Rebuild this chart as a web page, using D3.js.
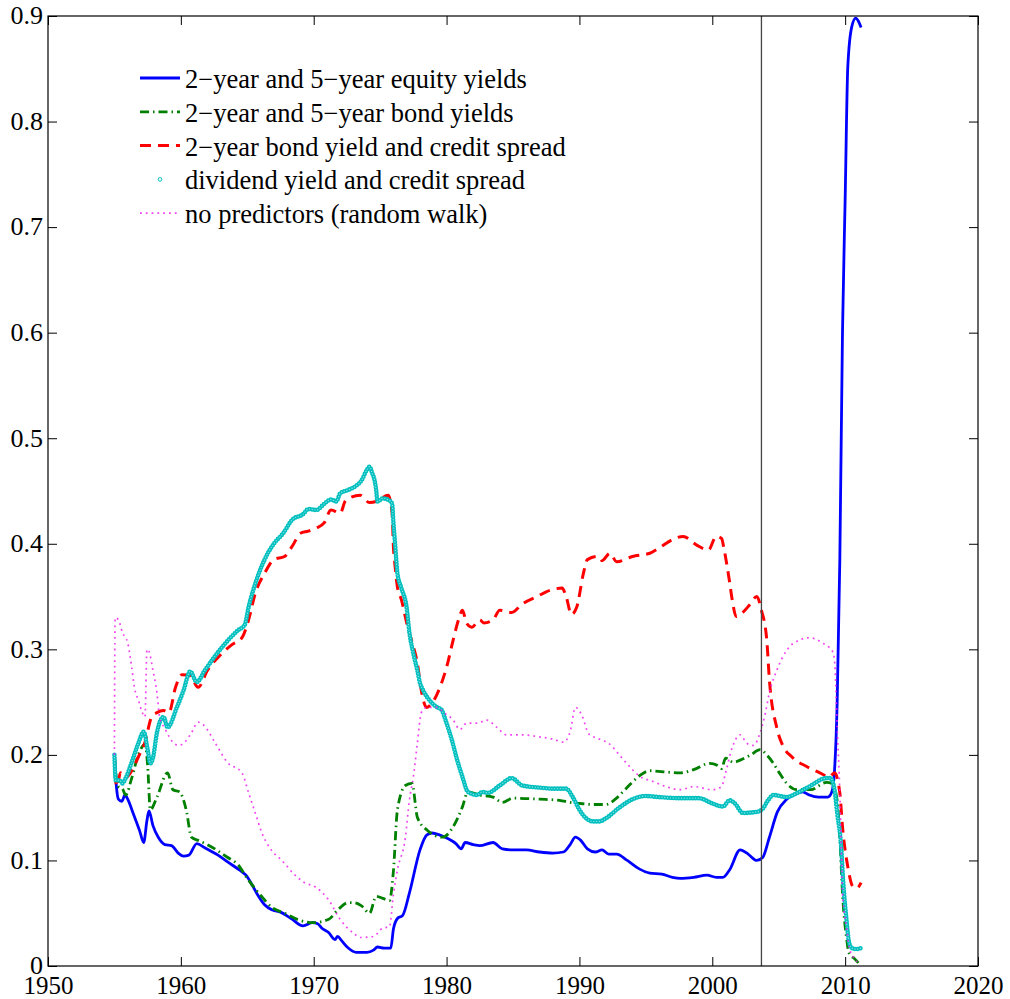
<!DOCTYPE html>
<html>
<head>
<meta charset="utf-8">
<script src="https://cdn.jsdelivr.net/npm/d3@7"></script>
<style>
  html, body { margin: 0; padding: 0; background: #fff; }
  svg { display: block; }
  text { font-family: "Liberation Serif", "Times New Roman", serif; fill: #000; }
</style>
</head>
<body>
<svg id="chart" width="1010" height="999"></svg>
<script>
// Forecast-error paths for five predictor sets, 1955–2011: [year, value]
const equityYields = [
  [1955.0,0.200],[1955.15,0.170],[1955.3,0.158],[1955.55,0.156],[1955.8,0.162],[1956.0,0.158],
  [1956.4,0.145],[1956.9,0.128],[1957.2,0.117],[1957.45,0.138],[1957.6,0.147],[1957.9,0.133],
  [1958.3,0.122],[1958.8,0.115],[1959.3,0.114],[1959.8,0.107],[1960.2,0.104],[1960.6,0.105],
  [1961.2,0.116],[1961.8,0.112],[1962.8,0.105],[1963.6,0.098],[1964.4,0.091],[1964.9,0.086],
  [1965.4,0.076],[1965.8,0.067],[1966.3,0.058],[1966.9,0.053],[1967.5,0.051],[1968.3,0.045],
  [1969.2,0.038],[1969.9,0.041],[1970.3,0.040],[1970.6,0.036],[1971.1,0.032],[1971.6,0.025],
  [1971.8,0.028],[1972.1,0.024],[1972.6,0.017],[1973.2,0.013],[1974.0,0.013],[1974.5,0.015],
  [1974.8,0.018],[1975.3,0.017],[1975.8,0.017],[1976.0,0.035],[1976.3,0.045],[1976.7,0.048],
  [1977.2,0.069],[1978.0,0.110],[1978.5,0.124],[1978.9,0.126],[1979.5,0.124],[1980.2,0.120],
  [1980.7,0.116],[1981.1,0.111],[1981.4,0.117],[1982.0,0.115],[1982.5,0.114],[1983.5,0.117],
  [1984.2,0.111],[1985.0,0.110],[1986.0,0.110],[1987.0,0.108],[1988.0,0.107],[1988.8,0.108],
  [1989.3,0.115],[1989.7,0.122],[1990.1,0.119],[1990.6,0.111],[1991.2,0.108],[1991.7,0.110],
  [1992.2,0.106],[1992.8,0.106],[1993.6,0.100],[1994.5,0.092],[1995.3,0.088],[1996.2,0.087],
  [1997.0,0.084],[1997.6,0.083],[1998.6,0.084],[1999.6,0.086],[2000.3,0.084],[2000.8,0.084],
  [2001.3,0.091],[2002.1,0.110],[2002.7,0.106],[2003.35,0.100],[2003.8,0.103],[2004.3,0.122],
  [2004.9,0.146],[2005.6,0.158],[2006.3,0.163],[2006.8,0.165],[2007.3,0.162],[2008.0,0.160],
  [2008.7,0.160],[2009.0,0.165],[2009.2,0.185],[2009.4,0.250],[2009.6,0.385],[2009.8,0.600],
  [2010.0,0.726],[2010.2,0.852],[2010.5,0.890],[2010.8,0.898],[2011.0,0.895],[2011.2,0.889]
];

const bondYields = [
  [1955.0,0.200],[1955.15,0.178],[1955.3,0.170],[1955.6,0.168],[1955.85,0.162],[1956.3,0.178],
  [1956.8,0.200],[1957.3,0.210],[1957.5,0.190],[1957.7,0.148],[1958.2,0.160],[1959.0,0.183],
  [1959.4,0.167],[1959.9,0.165],[1960.4,0.148],[1960.8,0.122],[1961.3,0.119],[1962.0,0.115],
  [1963.5,0.103],[1964.3,0.096],[1965.0,0.083],[1966.0,0.067],[1966.9,0.055],[1967.8,0.050],
  [1968.8,0.044],[1969.9,0.041],[1971.1,0.044],[1971.8,0.053],[1972.6,0.060],[1973.0,0.060],
  [1973.6,0.057],[1974.2,0.050],[1974.7,0.066],[1975.2,0.064],[1975.7,0.062],[1976.0,0.090],
  [1976.3,0.148],[1976.9,0.171],[1977.4,0.173],[1977.8,0.141],[1978.5,0.129],[1979.7,0.122],
  [1980.5,0.132],[1981.2,0.151],[1981.6,0.165],[1982.5,0.162],[1983.5,0.160],[1984.2,0.155],
  [1985.0,0.159],[1987.0,0.158],[1988.5,0.157],[1989.3,0.155],[1990.0,0.154],[1991.0,0.153],
  [1992.0,0.153],[1992.7,0.158],[1993.5,0.168],[1994.5,0.180],[1995.3,0.185],[1996.3,0.184],
  [1997.6,0.183],[1998.6,0.186],[1999.8,0.192],[2000.4,0.190],[2000.7,0.187],[2001.0,0.197],
  [2001.6,0.193],[2002.1,0.195],[2002.9,0.200],[2003.6,0.205],[2004.1,0.200],[2004.6,0.192],
  [2005.1,0.182],[2005.6,0.173],[2006.4,0.167],[2007.4,0.167],[2008.6,0.174],[2009.0,0.173],
  [2009.4,0.157],[2009.6,0.122],[2009.8,0.069],[2010.1,0.027],[2010.3,0.012],[2010.7,0.007],
  [2011.0,0.003]
];

const bondSpread = [
  [1955.0,0.200],[1955.1,0.175],[1955.2,0.170],[1955.45,0.183],[1955.8,0.178],[1956.3,0.185],
  [1956.8,0.198],[1957.3,0.212],[1957.8,0.236],[1958.2,0.240],[1958.7,0.242],[1959.1,0.240],
  [1959.6,0.264],[1960.1,0.276],[1960.7,0.275],[1961.3,0.264],[1962.0,0.280],[1963.0,0.295],
  [1963.8,0.304],[1964.6,0.311],[1965.1,0.328],[1965.6,0.353],[1966.3,0.372],[1967.0,0.385],
  [1967.8,0.388],[1968.4,0.398],[1969.0,0.410],[1969.6,0.412],[1970.2,0.415],[1970.8,0.420],
  [1971.3,0.432],[1972.0,0.429],[1972.4,0.441],[1973.5,0.446],[1974.2,0.439],[1974.7,0.440],
  [1975.6,0.446],[1975.9,0.429],[1976.0,0.397],[1976.1,0.382],[1976.3,0.359],[1976.6,0.347],
  [1977.0,0.325],[1977.4,0.307],[1977.8,0.287],[1978.1,0.261],[1978.5,0.245],[1978.9,0.249],
  [1979.5,0.264],[1980.0,0.283],[1980.5,0.309],[1980.9,0.328],[1981.2,0.337],[1981.5,0.325],
  [1981.9,0.321],[1982.5,0.328],[1982.8,0.325],[1983.5,0.328],[1984.0,0.337],[1984.9,0.335],
  [1985.7,0.343],[1986.8,0.350],[1987.8,0.356],[1988.7,0.358],[1989.0,0.350],[1989.4,0.333],
  [1989.8,0.340],[1990.3,0.372],[1990.6,0.385],[1991.4,0.388],[1991.7,0.384],[1992.3,0.391],
  [1992.8,0.383],[1994.0,0.388],[1995.3,0.391],[1996.0,0.396],[1997.0,0.404],[1997.8,0.407],
  [1998.8,0.399],[1999.7,0.394],[2000.3,0.407],[2000.7,0.405],[2000.9,0.394],[2001.3,0.364],
  [2001.5,0.347],[2001.8,0.331],[2002.3,0.335],[2002.8,0.342],[2003.35,0.350],[2003.7,0.337],
  [2004.1,0.309],[2004.3,0.271],[2004.85,0.226],[2005.3,0.209],[2006.0,0.198],[2007.1,0.189],
  [2008.1,0.183],[2008.8,0.179],[2009.2,0.183],[2009.6,0.164],[2009.8,0.132],[2010.2,0.094],
  [2010.6,0.075],[2010.9,0.074],[2011.2,0.079]
];

const dividendSpread = [
  [1955.0,0.200],[1955.1,0.176],[1955.4,0.176],[1955.6,0.173],[1955.85,0.178],[1956.3,0.193],
  [1956.8,0.211],[1957.2,0.222],[1957.5,0.205],[1957.7,0.192],[1957.9,0.197],[1958.2,0.221],
  [1958.7,0.236],[1959.0,0.226],[1959.7,0.245],[1960.2,0.261],[1960.7,0.279],[1961.2,0.269],
  [1961.8,0.280],[1963.1,0.302],[1964.3,0.318],[1964.8,0.323],[1965.1,0.340],[1965.7,0.366],
  [1966.3,0.385],[1967.0,0.400],[1967.7,0.410],[1968.4,0.423],[1969.2,0.428],[1969.6,0.433],
  [1970.2,0.432],[1970.8,0.438],[1971.3,0.442],[1971.7,0.440],[1972.0,0.448],[1972.6,0.451],
  [1973.2,0.455],[1973.6,0.460],[1974.0,0.470],[1974.2,0.473],[1974.4,0.467],[1974.6,0.459],
  [1974.7,0.451],[1974.8,0.440],[1975.2,0.443],[1975.7,0.441],[1975.9,0.438],[1976.0,0.420],
  [1976.1,0.404],[1976.2,0.387],[1976.3,0.372],[1976.6,0.358],[1977.0,0.339],[1977.2,0.316],
  [1977.5,0.296],[1977.8,0.280],[1978.0,0.268],[1978.2,0.262],[1978.7,0.252],[1979.3,0.245],
  [1979.6,0.243],[1980.0,0.230],[1980.4,0.214],[1980.8,0.195],[1981.2,0.179],[1981.6,0.165],
  [1982.3,0.162],[1982.7,0.165],[1983.1,0.164],[1984.0,0.171],[1984.9,0.178],[1985.7,0.171],
  [1987.0,0.169],[1988.0,0.168],[1989.0,0.168],[1989.5,0.160],[1990.0,0.148],[1990.5,0.140],
  [1991.0,0.137],[1991.5,0.137],[1992.0,0.140],[1993.0,0.150],[1994.0,0.158],[1995.0,0.161],
  [1996.0,0.160],[1997.6,0.159],[1999.0,0.159],[2000.0,0.154],[2000.8,0.151],[2001.3,0.157],
  [2001.7,0.154],[2002.3,0.145],[2003.35,0.146],[2003.8,0.149],[2004.2,0.157],[2004.6,0.162],
  [2005.6,0.160],[2006.4,0.164],[2007.3,0.170],[2008.6,0.178],[2008.9,0.178],[2009.2,0.167],
  [2009.4,0.145],[2009.7,0.113],[2009.85,0.081],[2010.1,0.044],[2010.3,0.022],[2010.5,0.017],
  [2010.9,0.016],[2011.2,0.017]
];

const randomWalk = [
  [1955.0,0.200],[1955.05,0.330],[1955.3,0.328],[1955.6,0.316],[1956.0,0.306],[1956.3,0.283],
  [1956.5,0.264],[1956.8,0.252],[1957.1,0.240],[1957.3,0.236],[1957.45,0.300],[1957.6,0.298],
  [1957.9,0.280],[1958.2,0.259],[1958.4,0.236],[1958.8,0.225],[1959.4,0.212],[1959.8,0.209],
  [1960.3,0.212],[1960.8,0.221],[1961.3,0.231],[1961.8,0.227],[1962.6,0.211],[1963.5,0.193],
  [1964.6,0.183],[1965.1,0.164],[1965.6,0.145],[1966.1,0.126],[1966.8,0.110],[1967.6,0.100],
  [1968.6,0.086],[1969.3,0.079],[1970.1,0.075],[1971.1,0.063],[1972.0,0.044],[1973.0,0.031],
  [1973.5,0.027],[1974.5,0.028],[1975.2,0.036],[1975.7,0.037],[1976.0,0.068],[1976.3,0.091],
  [1976.9,0.122],[1977.2,0.157],[1977.5,0.179],[1977.8,0.211],[1978.1,0.240],[1978.5,0.245],
  [1979.3,0.245],[1979.8,0.240],[1980.5,0.233],[1981.0,0.224],[1981.5,0.230],[1982.3,0.230],
  [1983.0,0.233],[1983.8,0.226],[1984.5,0.219],[1985.7,0.219],[1987.0,0.217],[1988.0,0.215],
  [1988.8,0.212],[1989.3,0.222],[1989.7,0.245],[1990.2,0.237],[1990.7,0.220],[1991.5,0.215],
  [1992.3,0.210],[1993.0,0.200],[1993.7,0.190],[1994.5,0.180],[1995.5,0.175],[1996.5,0.170],
  [1997.6,0.167],[1998.6,0.170],[2000.0,0.167],[2000.7,0.170],[2001.0,0.183],[2001.5,0.207],
  [2002.1,0.219],[2002.6,0.211],[2003.1,0.209],[2003.6,0.221],[2004.0,0.240],[2004.3,0.259],
  [2004.85,0.280],[2005.6,0.299],[2006.6,0.309],[2007.3,0.311],[2008.3,0.306],[2009.1,0.297],
  [2009.25,0.280],[2009.4,0.226],[2009.6,0.164],[2009.7,0.117],[2009.8,0.069],[2010.1,0.037],
  [2010.3,0.018],[2010.7,0.007],[2010.9,0.004]
];

const legendLabels = [
  "2\u2212year and 5\u2212year equity yields",
  "2\u2212year and 5\u2212year bond yields",
  "2\u2212year bond yield and credit spread",
  "dividend yield and credit spread",
  "no predictors (random walk)"
];
const xTickValues = [1950, 1960, 1970, 1980, 1990, 2000, 2010, 2020];
const yTickValues = [0, 0.1, 0.2, 0.3, 0.4, 0.5, 0.6, 0.7, 0.8, 0.9];
const markerYear = 2003.7;

// Plot frame
const margin = { left: 48, top: 16, right: 32, bottom: 33 };
const W = 1010, H = 999;
const innerW = W - margin.left - margin.right;
const innerH = H - margin.top - margin.bottom;

const svg = d3.select("#chart");
const g = svg.append("g").attr("transform", `translate(${margin.left},${margin.top})`);

const x = d3.scaleLinear().domain([1950, 2020]).range([0, innerW]);
const y = d3.scaleLinear().domain([0, 0.9]).range([innerH, 0]);

const line = d3.line()
  .x(d => x(d[0]))
  .y(d => y(d[1]))
  .curve(d3.curveMonotoneX);

// Series styles
const series = [
  { data: equityYields,   kind: "solid" },
  { data: bondYields,     kind: "dashdot" },
  { data: bondSpread,     kind: "dash" },
  { data: dividendSpread, kind: "rings" },
  { data: randomWalk,     kind: "dots" }
];

function styleLine(sel, kind) {
  if (kind === "solid") {
    sel.attr("stroke", "#0000ff").attr("stroke-width", 2.8);
  } else if (kind === "dashdot") {
    sel.attr("stroke", "#008000").attr("stroke-width", 2.8)
       .attr("stroke-dasharray", "9,4,1.5,4");
  } else if (kind === "dash") {
    sel.attr("stroke", "#ff0000").attr("stroke-width", 3)
       .attr("stroke-dasharray", "11,7");
  } else if (kind === "dots") {
    sel.attr("stroke", "#ee22ee").attr("stroke-width", 1.7)
       .attr("stroke-opacity", 0.85)
       .attr("stroke-dasharray", "1.8,4");
  }
  return sel;
}

const plot = g.append("g");

series.forEach(s => {
  if (s.kind === "rings") {
    // chain of small hollow circles along the path
    plot.append("path").datum(s.data).attr("d", line)
      .attr("fill", "none").attr("stroke", "#00bfbf")
      .attr("stroke-width", 4.6).attr("stroke-linecap", "round")
      .attr("stroke-dasharray", "0,2.8");
    plot.append("path").datum(s.data).attr("d", line)
      .attr("fill", "none").attr("stroke", "#ffffff")
      .attr("stroke-width", 1.4).attr("stroke-linecap", "round")
      .attr("stroke-opacity", 0.55)
      .attr("stroke-dasharray", "0,2.8");
  } else {
    styleLine(plot.append("path").datum(s.data).attr("d", line).attr("fill", "none"), s.kind);
  }
});

// Vertical reference line
g.append("line")
  .attr("x1", x(markerYear)).attr("x2", x(markerYear))
  .attr("y1", 0).attr("y2", innerH)
  .attr("stroke", "#444").attr("stroke-width", 1.3);

// Axes: inward ticks on all four sides
const tickLen = 9;
const axBottom = d3.axisBottom(x).tickValues(xTickValues).tickFormat(d3.format("d"))
  .tickSizeInner(-tickLen).tickSizeOuter(0).tickPadding(14);
const axTop = d3.axisTop(x).tickValues(xTickValues).tickFormat("")
  .tickSizeInner(-tickLen).tickSizeOuter(0);
const axLeft = d3.axisLeft(y).tickValues(yTickValues).tickFormat(d => d === 0 ? "0" : d3.format(".1f")(d))
  .tickSizeInner(-tickLen).tickSizeOuter(0).tickPadding(5);
const axRight = d3.axisRight(y).tickValues(yTickValues).tickFormat("")
  .tickSizeInner(-tickLen).tickSizeOuter(0);

function styleAxis(sel) {
  sel.select(".domain").remove();
  sel.selectAll(".tick line").attr("stroke", "#000").attr("stroke-width", 1);
  sel.selectAll(".tick text")
    .attr("font-family", "Liberation Serif, Times New Roman, serif")
    .attr("font-size", 26).attr("fill", "#000");
}

g.append("g").attr("transform", `translate(0,${innerH})`).call(axBottom).call(styleAxis)
  .selectAll(".tick text").attr("font-size", 25).attr("dy", "0.71em").attr("y", 10);
g.append("g").call(axTop).call(styleAxis);
g.append("g").call(axLeft).call(styleAxis)
  .selectAll(".tick text").attr("dy", "0.3em");
g.append("g").attr("transform", `translate(${innerW},0)`).call(axRight).call(styleAxis);

// Frame
g.append("rect").attr("x", 0).attr("y", 0).attr("width", innerW).attr("height", innerH)
  .attr("fill", "none").attr("stroke", "#000").attr("stroke-width", 1.2);

// Legend
const legend = svg.append("g");
const legX0 = 140, legX1 = 180, legTextX = 185, legY0 = 78, legStep = 33.8;
series.forEach((s, i) => {
  const yy = legY0 + i * legStep;
  if (s.kind === "rings") {
    legend.append("circle").attr("cx", (legX0 + legX1) / 2).attr("cy", yy).attr("r", 1.8)
      .attr("fill", "none").attr("stroke", "#00bfbf").attr("stroke-width", 1);
  } else {
    styleLine(legend.append("line")
      .attr("x1", legX0).attr("x2", legX1).attr("y1", yy).attr("y2", yy), s.kind);
  }
  legend.append("text").attr("x", legTextX).attr("y", yy + 10)
    .attr("font-size", 26.5).text(legendLabels[i]);
});
</script>
</body>
</html>
